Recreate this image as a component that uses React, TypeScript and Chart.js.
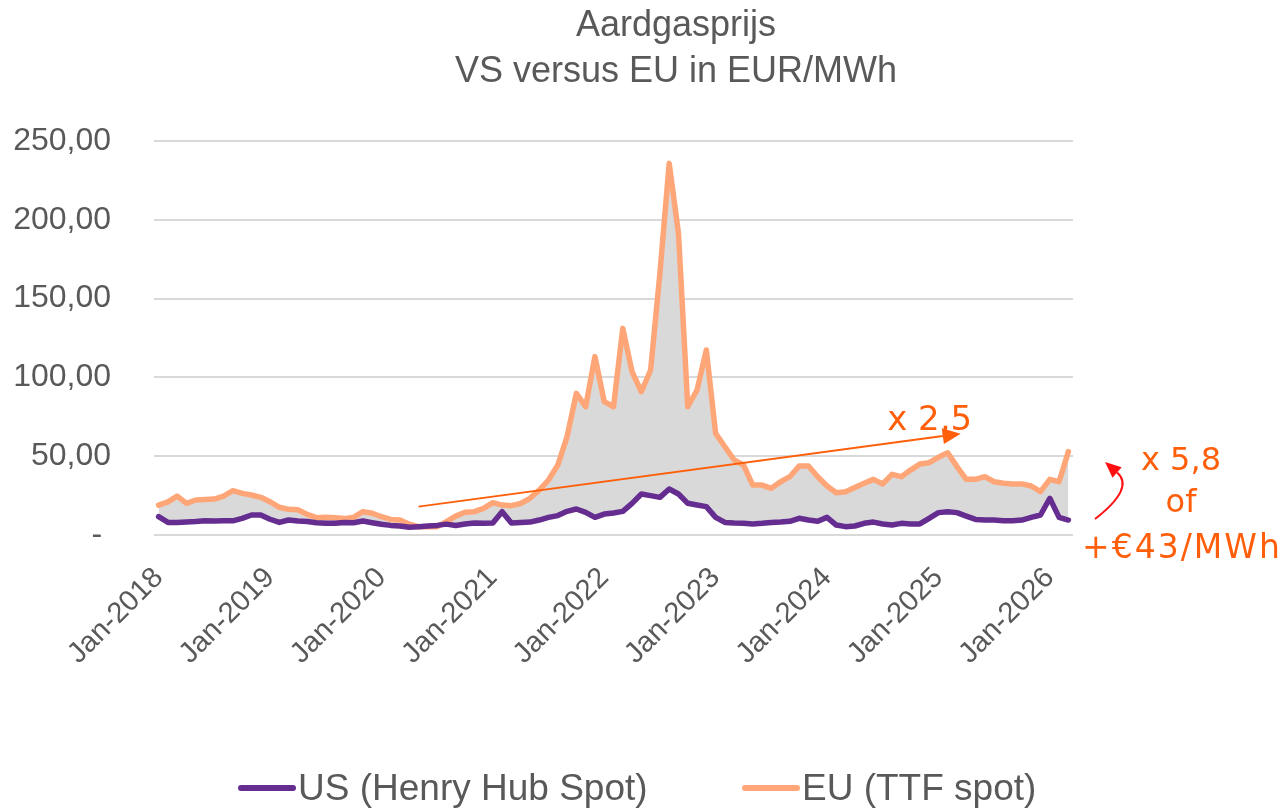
import React, { useEffect, useRef } from "react";
import { Chart, registerables } from "chart.js";

Chart.register(...registerables);

const FONT = '"Liberation Sans", Arial, sans-serif';
const ANNO_FONT = '"DejaVu Sans", sans-serif';
const TEXT_GREY = "#595959";
const US_COLOR = "#662D91";
const EU_COLOR = "#FFA678";
const FILL_GREY = "#D9D9D9";
const GRID_GREY = "#D9D9D9";
const ANNO_ORANGE = "#FF5F0A";
const ANNO_RED = "#FF1010";

const titleLines = ["Aardgasprijs", "VS versus EU in EUR/MWh"];
const seriesNames = ["US (Henry Hub Spot)", "EU (TTF spot)"];

const monthNames = ["Jan", "Feb", "Mar", "Apr", "May", "Jun", "Jul", "Aug", "Sep", "Oct", "Nov", "Dec"];
const years = [2018, 2019, 2020, 2021, 2022, 2023, 2024, 2025, 2026];
const lastMonthCount = 99; // Jan-2018 .. Mar-2026
const categories: string[] = years
  .flatMap((y) => monthNames.map((m) => `${m}-${y}`))
  .slice(0, lastMonthCount);

const tickLabels = [
  "Jan-2018", "Jan-2019", "Jan-2020", "Jan-2021", "Jan-2022",
  "Jan-2023", "Jan-2024", "Jan-2025", "Jan-2026",
];

// US (Henry Hub Spot), EUR/MWh
const usValues = [
  11.6, 8.0, 8.0, 8.2, 8.5, 9.1, 8.9, 9.0, 9.0, 10.6, 12.7, 12.7,
  10.0, 8.0, 9.5, 8.9, 8.5, 7.8, 7.4, 7.4, 8.0, 7.8, 8.9, 7.8,
  6.8, 6.1, 5.7, 4.9, 5.3, 5.7, 6.1, 6.9, 6.0, 7.0, 7.6, 7.4,
  7.6, 14.8, 7.6, 8.0, 8.2, 9.5, 11.2, 12.3, 15.0, 16.5, 14.4, 11.2,
  13.3, 14.0, 15.0, 20.1, 26.0, 25.0, 23.9, 29.2, 26.0, 20.1, 19.0, 18.0,
  11.2, 8.0, 7.6, 7.4, 7.0, 7.4, 8.0, 8.2, 8.7, 10.6, 9.5, 8.7,
  11.2, 6.3, 5.3, 5.7, 7.4, 8.2, 7.0, 6.3, 7.4, 7.0, 7.0, 10.6,
  14.2, 14.8, 14.2, 12.0, 9.9, 9.5, 9.5, 9.1, 9.1, 9.5, 11.2, 12.7,
  23.3, 11.2, 9.5,
];

// EU (TTF spot), EUR/MWh
const euValues = [
  19.0, 21.0, 24.7, 20.1, 22.2, 22.6, 22.8, 24.7, 28.1, 26.4, 25.4, 23.9,
  21.1, 17.6, 16.3, 16.0, 13.1, 11.0, 11.3, 11.0, 10.4, 11.2, 14.8, 13.8,
  11.6, 9.9, 9.5, 6.8, 5.3, 5.3, 5.3, 8.5, 12.0, 14.4, 14.8, 16.9,
  20.5, 19.0, 18.6, 20.0, 23.3, 28.5, 34.9, 44.4, 62.4, 89.9, 81.4, 113.2,
  84.6, 81.4, 131.1, 103.6, 90.9, 104.7, 166.0, 235.8, 191.4, 81.4, 92.0, 117.4,
  64.5, 56.0, 47.6, 44.4, 31.7, 31.7, 29.6, 33.8, 37.0, 43.8, 43.8, 37.0,
  31.1, 26.8, 27.5, 30.2, 32.8, 35.3, 32.4, 38.5, 37.0, 41.2, 45.0, 45.9,
  49.3, 52.2, 43.4, 35.3, 35.3, 37.0, 33.8, 32.8, 32.4, 32.4, 31.1, 27.5,
  35.3, 33.8, 52.9,
];

const yMin = 0;
const yMax = 250;
const yStep = 50;

// Trend arrow (in data coordinates: category index, value)
const trendStart = { index: 28, value: 18 };
const trendEnd = { index: 86.4, value: 64.3 };
const trendLabel = "x 2,5";
const sideLabels = ["x 5,8", "of", "+€43/MWh"];

const formatTick = (v: number) =>
  v === 0 ? "- " : v.toFixed(2).replace(".", ",");

const overlayPlugin = {
  id: "overlay",
  afterDatasetsDraw(chart: any) {
    const { ctx, scales } = chart;
    const x = scales.x;
    const y = scales.y;
    const x1 = x.getPixelForValue(trendStart.index);
    const y1 = y.getPixelForValue(trendStart.value);
    const x2 = x.getPixelForValue(trendEnd.index);
    const y2 = y.getPixelForValue(trendEnd.value);
    const ang = Math.atan2(y2 - y1, x2 - x1);
    const head = 18;
    const hw = 8;
    const bx = x2 - head * Math.cos(ang);
    const by = y2 - head * Math.sin(ang);
    ctx.save();
    ctx.strokeStyle = ANNO_ORANGE;
    ctx.fillStyle = ANNO_ORANGE;
    ctx.lineWidth = 2;
    ctx.beginPath();
    ctx.moveTo(x1, y1);
    ctx.lineTo(bx, by);
    ctx.stroke();
    ctx.beginPath();
    ctx.moveTo(x2, y2);
    ctx.lineTo(bx + hw * Math.sin(ang), by - hw * Math.cos(ang));
    ctx.lineTo(bx - hw * Math.sin(ang), by + hw * Math.cos(ang));
    ctx.closePath();
    ctx.fill();

    // trend label
    ctx.font = `34px ${ANNO_FONT}`;
    ctx.textAlign = "center";
    ctx.textBaseline = "alphabetic";
    ctx.fillText(trendLabel, x2 - 31, y2 - 4);
    ctx.restore();
  },
  afterDraw(chart: any) {
    const { ctx, chartArea } = chart;
    ctx.save();
    // Title
    ctx.fillStyle = TEXT_GREY;
    ctx.font = `36px ${FONT}`;
    ctx.textAlign = "center";
    ctx.textBaseline = "alphabetic";
    const tcx = 676;
    ctx.fillText(titleLines[0], tcx, 36);
    ctx.fillText(titleLines[1], tcx, 82);

    // Side annotation
    const cx = chartArea.right + 108;
    ctx.fillStyle = ANNO_ORANGE;
    ctx.font = `32px ${ANNO_FONT}`;
    ctx.fillText(sideLabels[0], cx, chartArea.bottom - 65);
    ctx.fillText(sideLabels[1], cx, chartArea.bottom - 23);
    ctx.font = `33px ${ANNO_FONT}`;
    (ctx as any).letterSpacing = "2px";
    ctx.fillText(sideLabels[2], cx + 1, chartArea.bottom + 23);
    (ctx as any).letterSpacing = "0px";

    // curved red arrow
    const sx = chartArea.right + 22, sy = chartArea.bottom - 16;
    const qx = chartArea.right + 62, qy = chartArea.bottom - 47;
    const ex = chartArea.right + 32, ey = chartArea.bottom - 73;
    const ang = Math.atan2(ey - qy, ex - qx);
    const head = 16, hw = 7;
    const bx = ex - head * Math.cos(ang), by = ey - head * Math.sin(ang);
    ctx.strokeStyle = ANNO_RED;
    ctx.fillStyle = ANNO_RED;
    ctx.lineWidth = 2;
    ctx.beginPath();
    ctx.moveTo(sx, sy);
    ctx.quadraticCurveTo(qx, qy, bx, by);
    ctx.stroke();
    ctx.beginPath();
    ctx.moveTo(ex, ey);
    ctx.lineTo(bx + hw * Math.sin(ang), by - hw * Math.cos(ang));
    ctx.lineTo(bx - hw * Math.sin(ang), by + hw * Math.cos(ang));
    ctx.closePath();
    ctx.fill();

    // Legend
    const legendY = 788;
    const items = [
      { x: 241, color: US_COLOR, text: seriesNames[0] },
      { x: 745, color: EU_COLOR, text: seriesNames[1] },
    ];
    ctx.font = `37px ${FONT}`;
    ctx.textAlign = "left";
    ctx.textBaseline = "alphabetic";
    items.forEach((it) => {
      ctx.strokeStyle = it.color;
      ctx.lineWidth = 6;
      ctx.lineCap = "round";
      ctx.beginPath();
      ctx.moveTo(it.x, legendY);
      ctx.lineTo(it.x + 52, legendY);
      ctx.stroke();
      ctx.fillStyle = TEXT_GREY;
      ctx.fillText(it.text, it.x + 57, legendY + 12);
    });
    ctx.restore();
  },
};

export default function App() {
  const ref = useRef<HTMLCanvasElement>(null);
  useEffect(() => {
    document.body.style.margin = "0";
    document.body.style.background = "#ffffff";
    const canvas = ref.current;
    if (!canvas) return;
    const chart = new Chart(canvas, {
      type: "line",
      data: {
        labels: categories,
        datasets: [
          {
            label: seriesNames[0],
            data: usValues,
            borderColor: US_COLOR,
            backgroundColor: US_COLOR,
            borderWidth: 5.5,
            pointRadius: 0,
            tension: 0,
            fill: false,
            borderJoinStyle: "round",
            borderCapStyle: "round",
          },
          {
            label: seriesNames[1],
            data: euValues,
            borderColor: EU_COLOR,
            backgroundColor: FILL_GREY,
            borderWidth: 5.5,
            pointRadius: 0,
            tension: 0,
            fill: "-1",
            borderJoinStyle: "round",
            borderCapStyle: "round",
          },
        ],
      },
      options: {
        responsive: false,
        animation: false,
        devicePixelRatio: 1,
        layout: { padding: { left: 0, right: 213, top: 141, bottom: 0 } },
        plugins: {
          legend: { display: false },
          title: { display: false },
          tooltip: { enabled: false },
        },
        scales: {
          x: {
            type: "category",
            offset: true,
            grid: { display: false },
            border: { display: false },
            ticks: {
              autoSkip: false,
              maxRotation: 45,
              minRotation: 45,
              padding: 18,
              color: TEXT_GREY,
              font: { family: FONT, size: 29 },
              callback: (_v: any, i: number) =>
                tickLabels.includes(categories[i]) ? categories[i] : "",
            },
            afterFit: (s: any) => {
              s.height = 273;
            },
          },
          y: {
            min: yMin,
            max: yMax,
            grid: { color: GRID_GREY, lineWidth: 2, drawTicks: false },
            border: { display: false },
            ticks: {
              stepSize: yStep,
              padding: 43,
              color: TEXT_GREY,
              font: { family: FONT, size: 32 },
              callback: (v: any) => formatTick(Number(v)),
            },
            afterFit: (s: any) => {
              s.width = 154;
            },
          },
        },
      } as any,
      plugins: [overlayPlugin],
    });
    return () => chart.destroy();
  }, []);
  return (
    <canvas
      ref={ref}
      width={1286}
      height={808}
      style={{ display: "block", width: 1286, height: 808 }}
    />
  );
}
